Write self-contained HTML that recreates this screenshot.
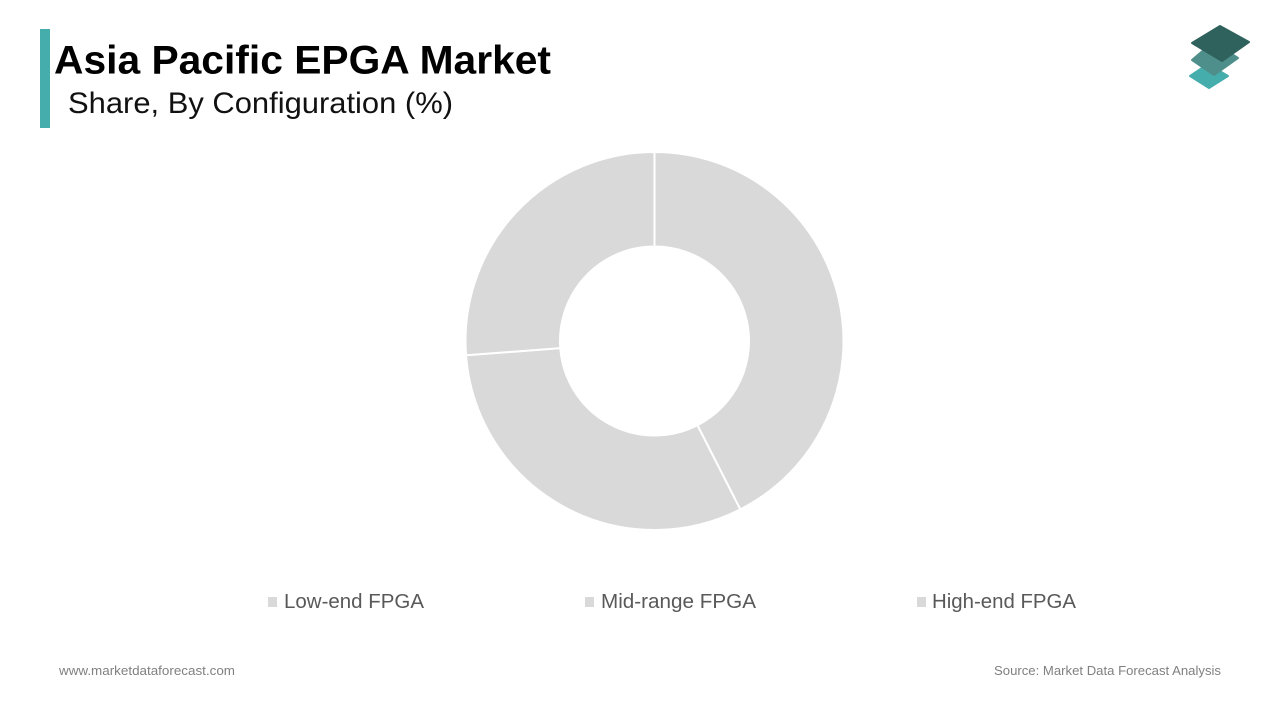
<!DOCTYPE html>
<html lang="en">
<head>
<meta charset="utf-8">
<title>Asia Pacific EPGA Market</title>
<style>
html,body{margin:0;padding:0;background:#fff}
#stage{position:relative;width:1280px;height:720px;overflow:hidden;background:#fff;font-family:"Liberation Sans",sans-serif}
#stage svg{position:absolute;left:0;top:0}
</style>
</head>
<body>
<div id="stage">
<svg id="chart" width="1280" height="720" viewBox="0 0 1280 720">
  <rect x="40" y="29" width="10" height="99" fill="#45adac"/>
  <text x="54" y="73.5" font-size="40" font-weight="700" fill="#000" textLength="497" lengthAdjust="spacingAndGlyphs">Asia Pacific EPGA Market</text>
  <text x="68" y="113" font-size="30" fill="#111" textLength="385" lengthAdjust="spacingAndGlyphs">Share, By Configuration (%)</text>
  <g stroke-linejoin="round">
    <polygon points="1208,64 1228,76 1209,88 1190,76" fill="#45adac" stroke="#45adac" stroke-width="2"/>
    <polygon points="1213,42 1238,58 1214,75 1192,60" fill="#4f8f8b" stroke="#4f8f8b" stroke-width="2"/>
    <polygon points="1220,26 1249,42 1222,61 1192,43" fill="#2f615d" stroke="#2f615d" stroke-width="2"/>
  </g>
  <g id="donut"></g>
  <g id="legend"></g>
  <text x="59" y="675" font-size="13" fill="#808080" textLength="176" lengthAdjust="spacingAndGlyphs">www.marketdataforecast.com</text>
  <text x="994" y="675" font-size="13" fill="#808080" textLength="227" lengthAdjust="spacingAndGlyphs">Source: Market Data Forecast Analysis</text>
</svg>
</div>
<script>
const categories = ["Low-end FPGA", "Mid-range FPGA", "High-end FPGA"];
const shares = [42.5, 31.3, 26.2];

const NS = "http://www.w3.org/2000/svg";
const cx = 654.5, cy = 341, outerR = 189, innerR = 94.5;
const sliceColor = "#d9d9d9";
const legendX = [268, 585, 917];
const legendTextX = [284, 601, 932];
const legendTextWidth = [140, 155, 144];

function angleOf(cumulative, total) {
  return (cumulative / total) * 2 * Math.PI;
}
function polar(r, a) {
  return [cx + r * Math.sin(a), cy - r * Math.cos(a)];
}
function arcPath(a0, a1) {
  const large = a1 - a0 > Math.PI ? 1 : 0;
  const p0 = polar(outerR, a0), p1 = polar(outerR, a1), p2 = polar(innerR, a1), p3 = polar(innerR, a0);
  return "M" + p0[0] + " " + p0[1] +
    "A" + outerR + " " + outerR + " 0 " + large + " 1 " + p1[0] + " " + p1[1] +
    "L" + p2[0] + " " + p2[1] +
    "A" + innerR + " " + innerR + " 0 " + large + " 0 " + p3[0] + " " + p3[1] + "Z";
}

const total = shares.reduce(function (s, v) { return s + v; }, 0);
const donut = document.getElementById("donut");
let running = 0;
shares.forEach(function (value) {
  const path = document.createElementNS(NS, "path");
  path.setAttribute("d", arcPath(angleOf(running, total), angleOf(running + value, total)));
  path.setAttribute("fill", sliceColor);
  path.setAttribute("stroke", "#fff");
  path.setAttribute("stroke-width", "2");
  
  
  donut.appendChild(path);
  running += value;
});

const legend = document.getElementById("legend");
categories.forEach(function (name, i) {
  const swatch = document.createElementNS(NS, "rect");
  swatch.setAttribute("x", legendX[i]);
  swatch.setAttribute("y", 597);
  swatch.setAttribute("width", 9);
  swatch.setAttribute("height", 10);
  swatch.setAttribute("fill", sliceColor);
  
  
  legend.appendChild(swatch);

  const label = document.createElementNS(NS, "text");
  label.setAttribute("x", legendTextX[i]);
  label.setAttribute("y", 608);
  label.setAttribute("font-size", "20.5");
  label.setAttribute("fill", "#595959");
  label.setAttribute("textLength", legendTextWidth[i]);
  label.setAttribute("lengthAdjust", "spacingAndGlyphs");
  
  
  label.textContent = name;
  legend.appendChild(label);
});
</script>
</body>
</html>
